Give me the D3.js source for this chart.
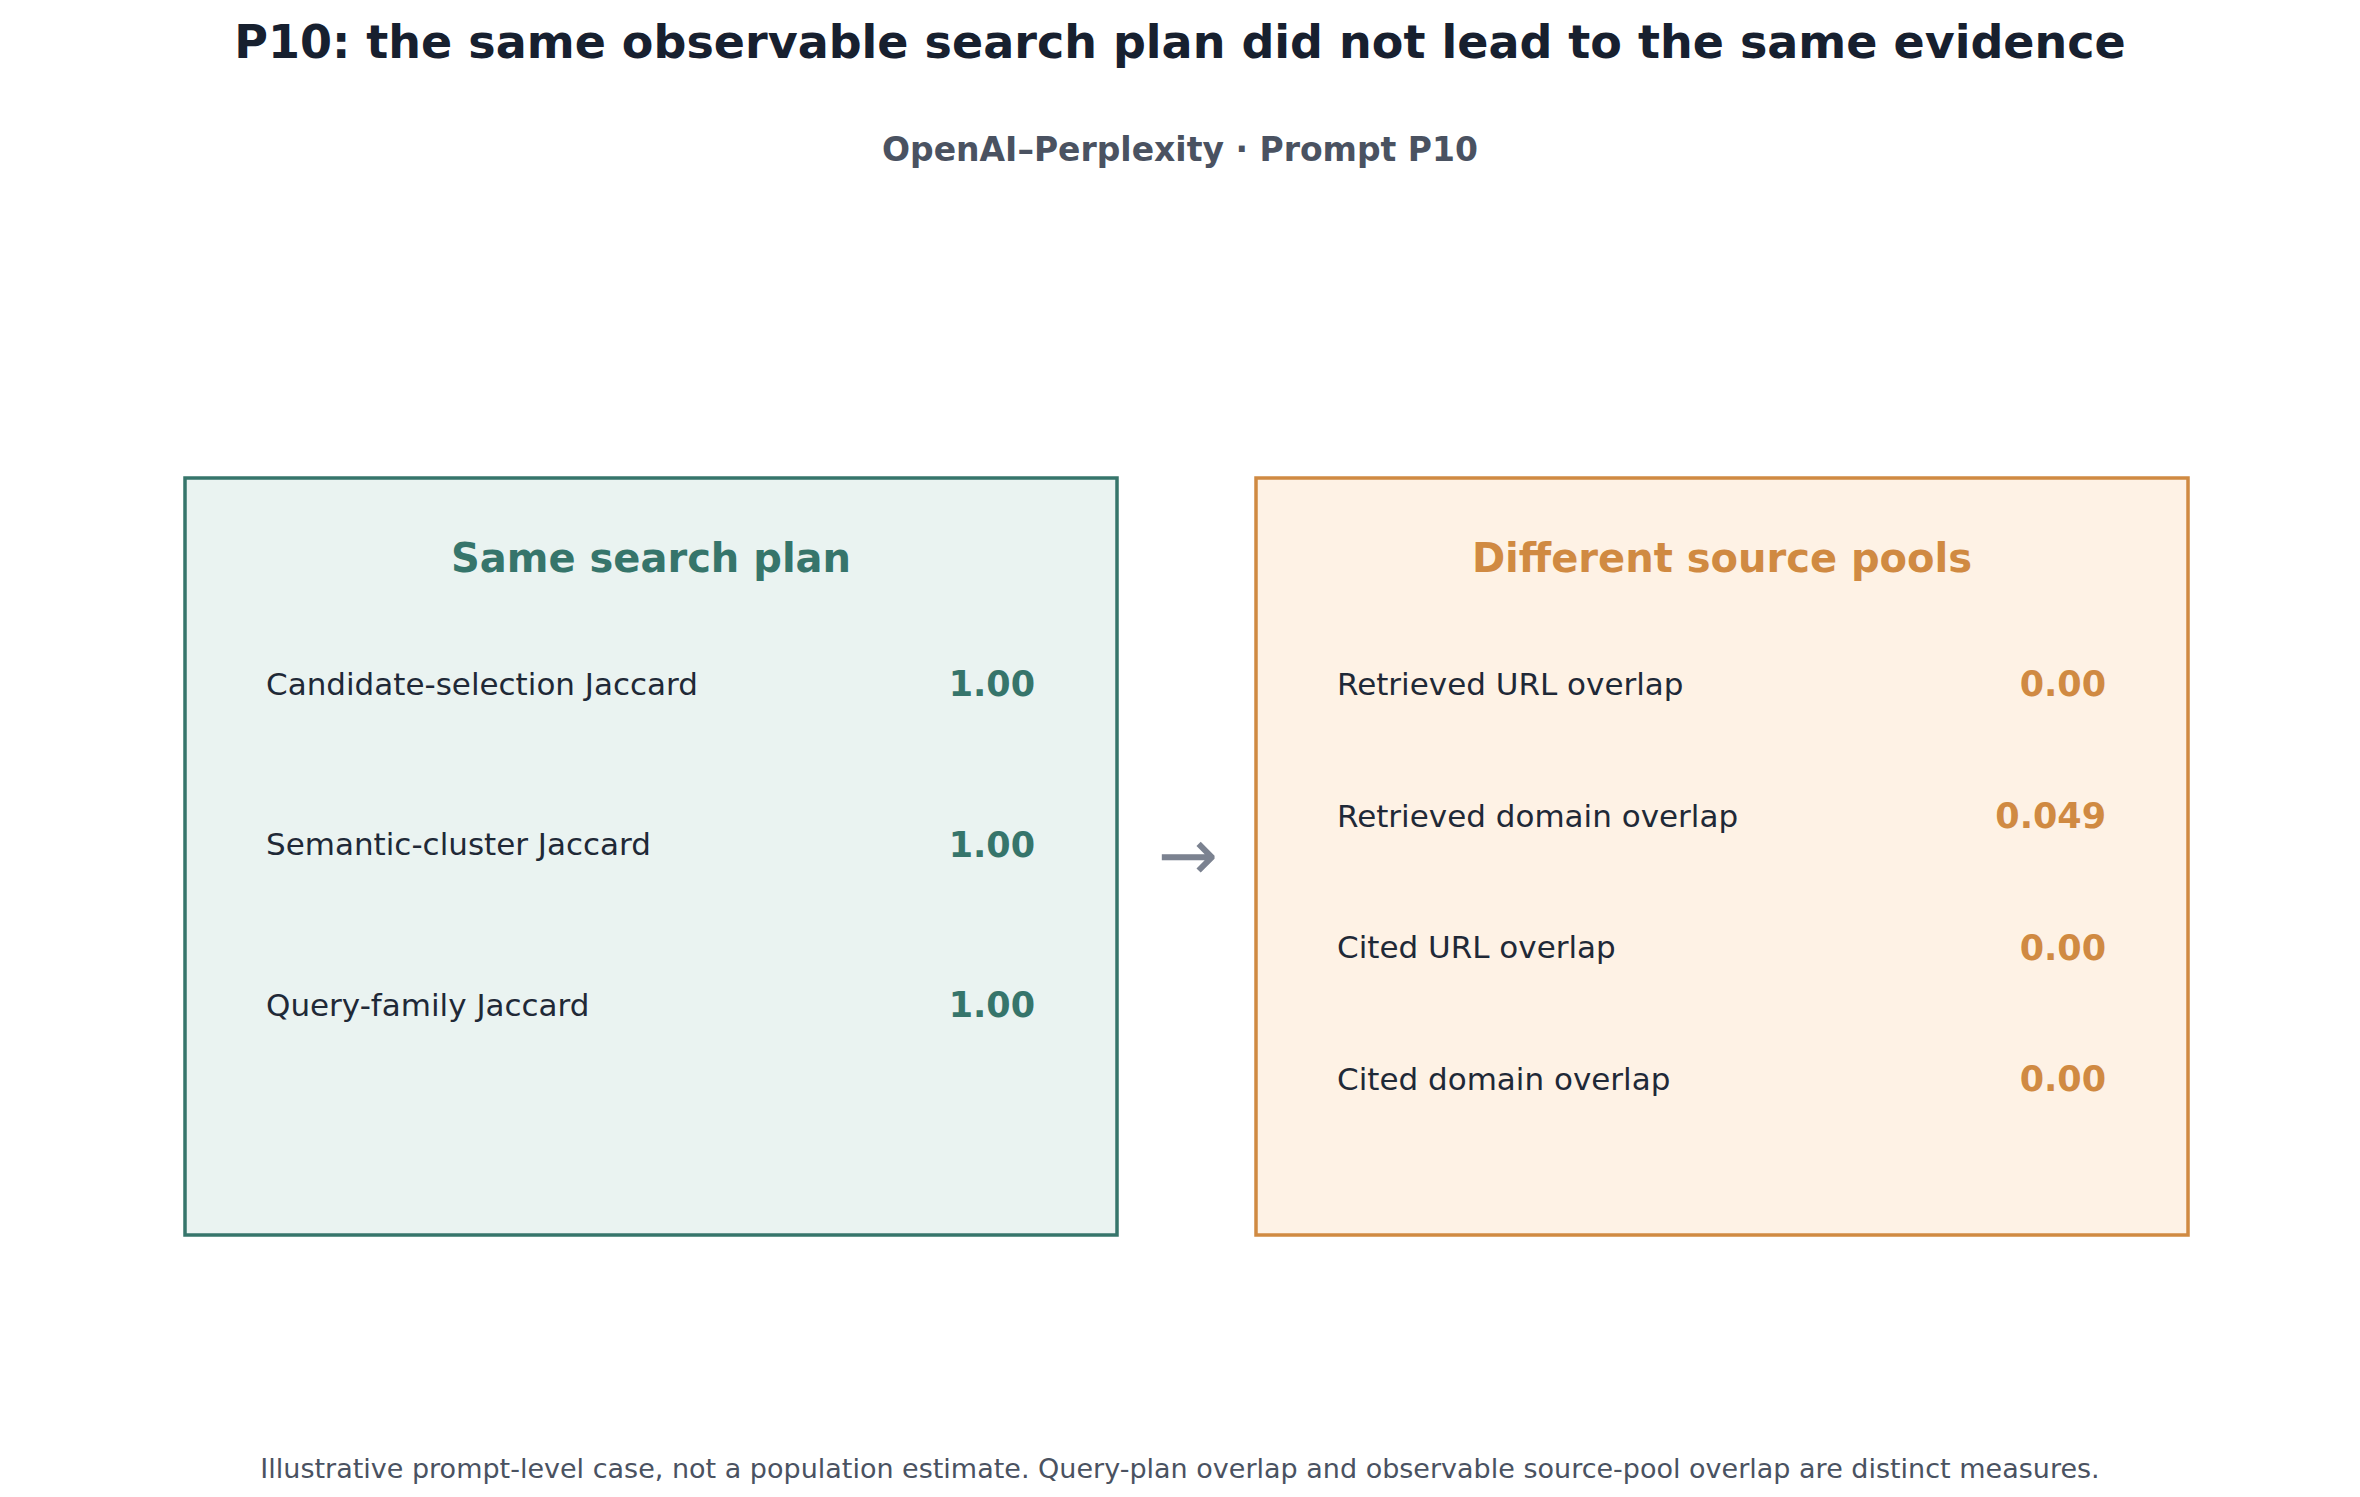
<!DOCTYPE html>
<html><head><meta charset="utf-8">
<script src="https://cdn.jsdelivr.net/npm/d3@7"></script>
<style>body{margin:0;background:#fff}svg{display:block}</style>
</head><body><svg id="c" width="2360" height="1497"></svg>
<script>
const leftLabels=["Candidate-selection Jaccard","Semantic-cluster Jaccard","Query-family Jaccard"];
const leftValues=["1.00","1.00","1.00"];
const rightLabels=["Retrieved URL overlap","Retrieved domain overlap","Cited URL overlap","Cited domain overlap"];
const rightValues=["0.00","0.049","0.00","0.00"];
const svg=d3.select("#c");
const F="DejaVu Sans, sans-serif";
svg.append("text").attr("x",1180).attr("y",58).attr("text-anchor","middle").attr("font-family",F).attr("font-weight","bold").attr("font-size",46).attr("fill","#17202f").text("P10: the same observable search plan did not lead to the same evidence");
svg.append("text").attr("x",1180).attr("y",161).attr("text-anchor","middle").attr("font-family",F).attr("font-weight","bold").attr("font-size",33).attr("fill","#4a5261").text("OpenAI–Perplexity · Prompt P10");
svg.append("text").attr("x",1180).attr("y",1478).attr("text-anchor","middle").attr("font-family",F).attr("font-size",27).attr("fill","#4a5261").text("Illustrative prompt-level case, not a population estimate. Query-plan overlap and observable source-pool overlap are distinct measures.");
function panel(x0,x1,title,labels,values,rowY,stroke,fill){
  const g=svg.append("g");
  g.append("rect").attr("x",x0).attr("y",478).attr("width",x1-x0).attr("height",757).attr("fill",fill).attr("stroke",stroke).attr("stroke-width",3.5);
  g.append("text").attr("x",(x0+x1)/2).attr("y",572).attr("text-anchor","middle").attr("font-family",F).attr("font-weight","bold").attr("font-size",40).attr("fill",stroke).text(title);
  const y=d3.scalePoint().domain(labels).range(rowY);
  labels.forEach((l,i)=>{
    g.append("text").attr("x",x0+81).attr("y",y(l)).attr("dy","0.35em").attr("font-family",F).attr("font-size",31).attr("fill","#1f2937").text(l);
    g.append("text").attr("x",x1-82).attr("y",y(l)).attr("dy","0.35em").attr("text-anchor","end").attr("font-family",F).attr("font-weight","bold").attr("font-size",35).attr("fill",stroke).text(values[i]);
  });
}
panel(185,1117,"Same search plan",leftLabels,leftValues,[684,1005],"#36756b","#eaf3f1");
panel(1256,2188,"Different source pools",rightLabels,rightValues,[684,1079],"#d08a42","#fef2e5");
svg.append("text").attr("x",1188).attr("y",855).attr("dy","0.35em").attr("text-anchor","middle").attr("font-family",F).attr("font-size",72).attr("fill","#7b8290").text("→");
</script></body></html>
